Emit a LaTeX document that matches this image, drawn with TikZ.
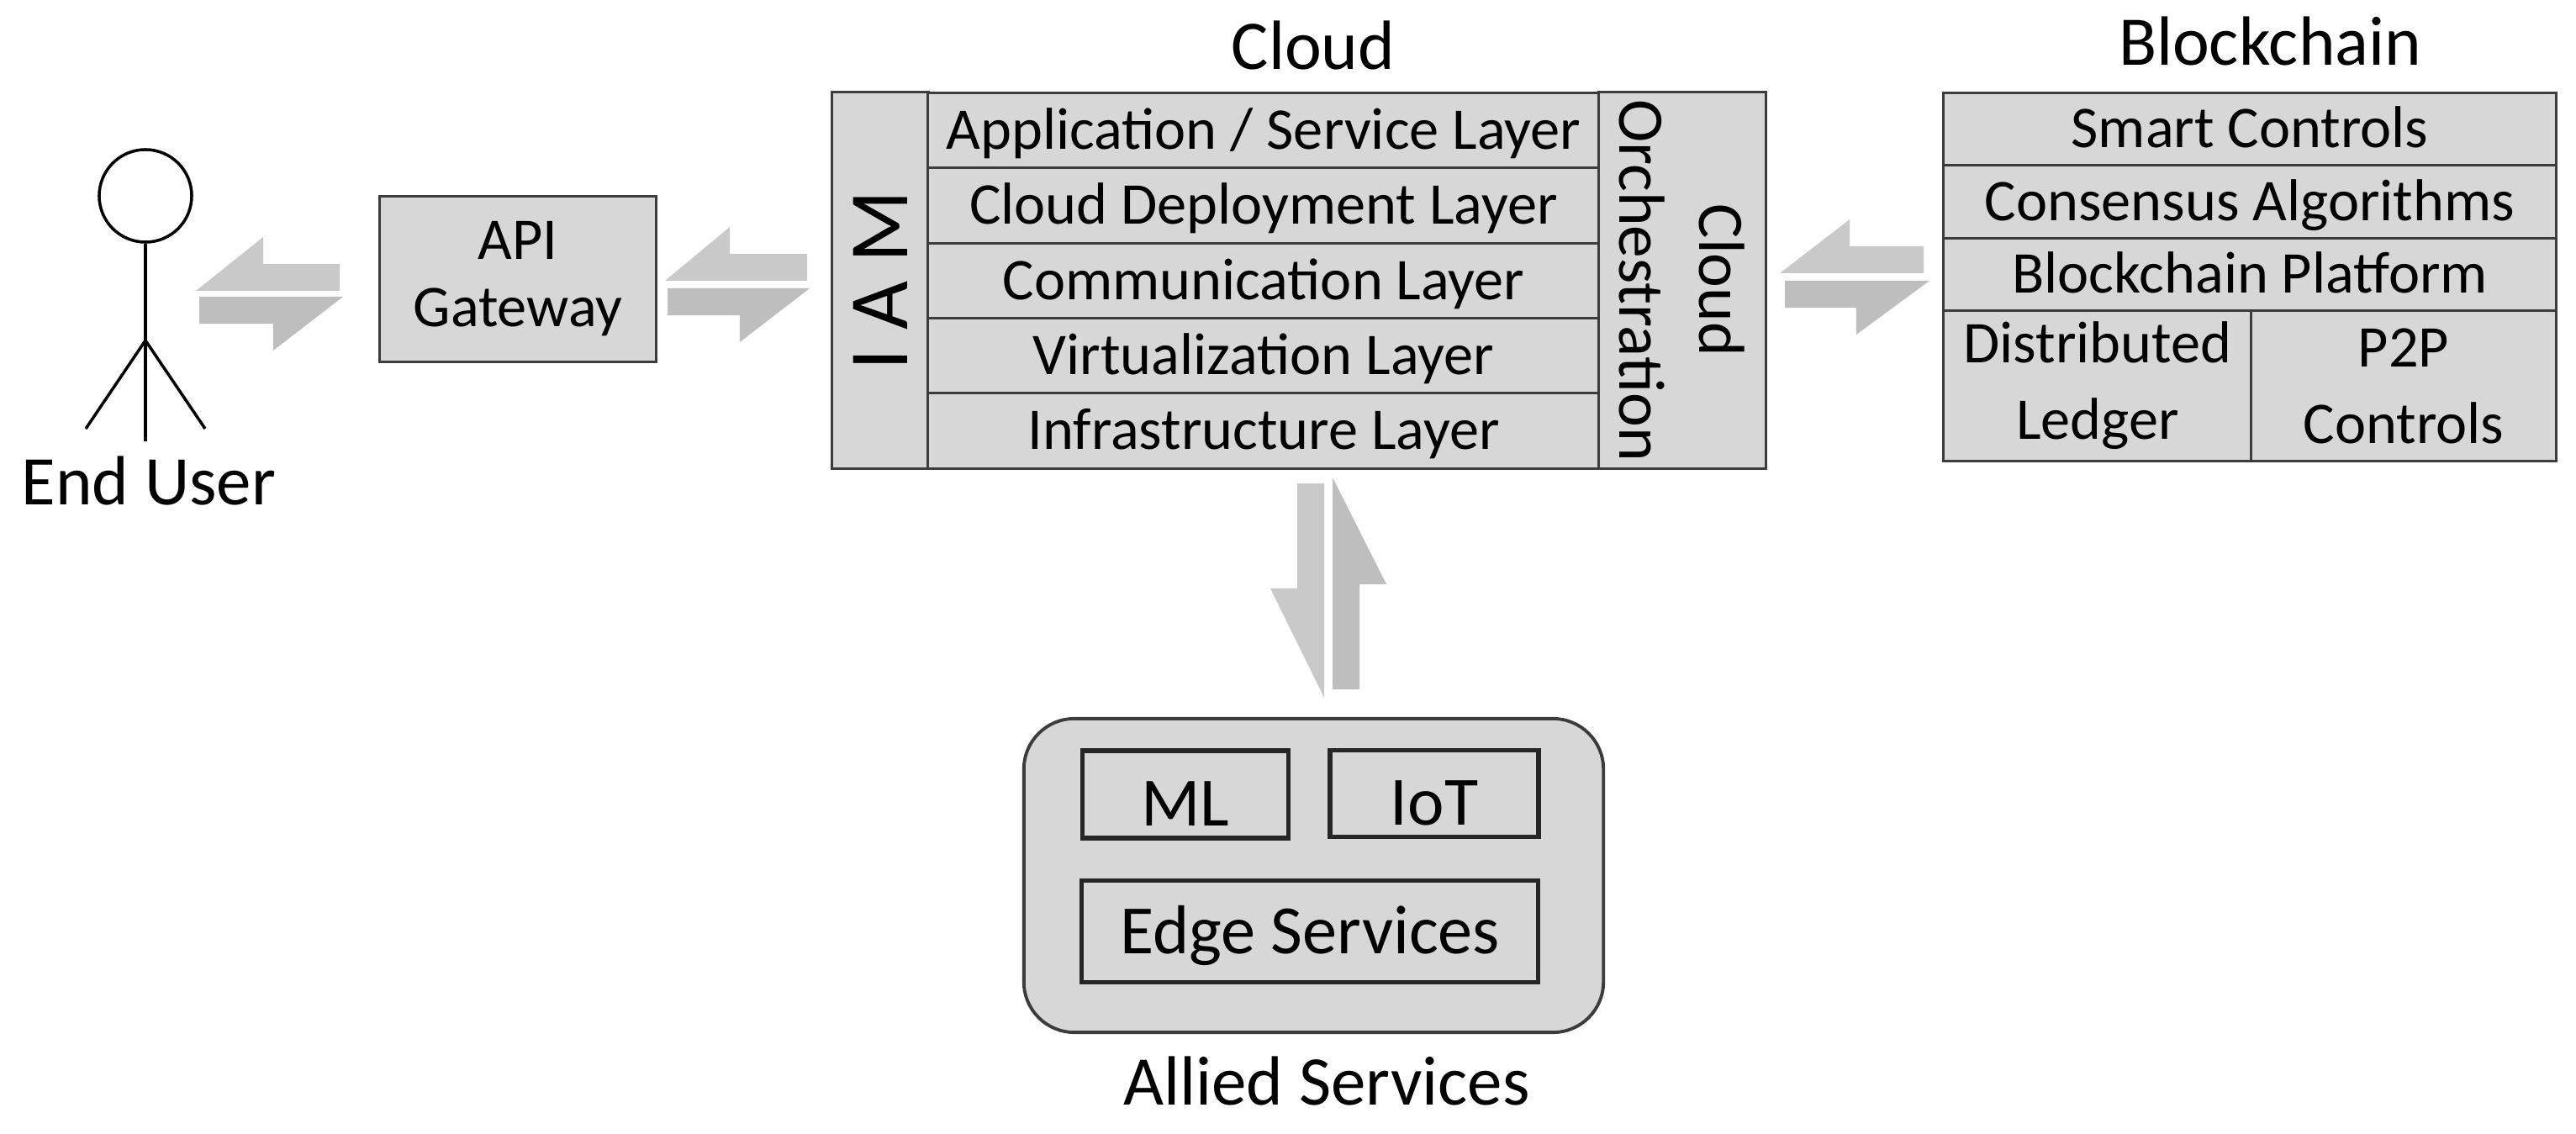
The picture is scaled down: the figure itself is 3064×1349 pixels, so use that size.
\documentclass[tikz,border=0pt]{standalone}
\usepackage{fontspec}
\setmainfont{Carlito}
\usetikzlibrary{calc}
\definecolor{boxgray}{HTML}{D7D7D7}
\definecolor{edgegray}{HTML}{3C3C3C}
\definecolor{arrowlight}{HTML}{C9C9C9}
\definecolor{arrowdark}{HTML}{BEBEBE}
% half block arrow: colour, tail, tip, head length
\newcommand{\halfarrow}[4]{%
  \coordinate (hb) at ($(#3)!#4!(#2)$);
  \fill[#1] (#2) -- (#3) -- ($(hb)!0.64cm!-90:(#3)$) -- ($(hb)!0.32cm!-90:(#3)$)
    -- ($(#2)!0.32cm!-90:(#3)$) -- cycle;}
\begin{document}
\begin{tikzpicture}[x=0.01cm,y=-0.01cm,
  box/.style={draw=edgegray,fill=boxgray,line width=0.85pt,inner sep=0pt,outer sep=0pt},
  lyr/.style={box,font=\fontsize{20}{24}\selectfont,text height=0.445cm,text depth=0pt},
  inbox/.style={box,draw=black!85,line width=1.6pt,font=\fontsize{23.4}{27}\selectfont,text height=0.52cm,text depth=0pt},
  title/.style={font=\fontsize{23.6}{28}\selectfont,text height=0.525cm,text depth=0pt,inner sep=0pt},
  stick/.style={line width=1pt}]
\useasboundingbox (0,0) rectangle (3064,1349);

% end user
\node[circle,draw,stick,minimum size=1.1cm,inner sep=0pt] (head) at (173,233) {};
\coordinate (hip) at (173,405);
\draw[stick] (head.south) -- (173,525);
\draw[stick] (102,510) -- (hip) -- (244,510);
\node[title] (user) at (177,574) {End User};

% gateway
\node[box,minimum width=3.28cm,minimum height=1.96cm,align=center,font=\fontsize{20}{22.8}\selectfont] (gw) at (616,332) {API\\Gateway};

% cloud
\node[title] (cloudtitle) at (1562,56) {Cloud};
\node[box,rotate=90,minimum width=4.47cm,minimum height=1.14cm,font=\fontsize{28.5}{30}\selectfont] (iam) at (1047,333.5) {I A M};
\foreach \i/\txt in {0/{Application / Service Layer},1/{Cloud Deployment Layer},2/{Communication Layer},3/{Virtualization Layer},4/{Infrastructure Layer}}
  {\node[lyr,minimum width=7.98cm,minimum height=0.894cm] (layer\i) at (1503,155+89.4*\i) {\txt};}
\node[box,rotate=-90,minimum width=4.47cm,minimum height=1.98cm,align=center,font=\fontsize{22}{27}\selectfont] (orch) at (2001,333.5) {Cloud\\Orchestration};

% blockchain
\node[title] (chaintitle) at (2700,51) {Blockchain};
\foreach \i/\txt in {0/Smart Controls,1/Consensus Algorithms,2/Blockchain Platform}
  {\node[lyr,minimum width=7.28cm,minimum height=0.865cm] (chain\i) at (2676,153.5+86.5*\i) {\txt};}
\node[box,minimum width=3.66cm,minimum height=1.78cm,align=center,font=\fontsize{20}{25.9}\selectfont] (ledger) at (2495,459) {Distributed\\Ledger};
\node[box,minimum width=3.62cm,minimum height=1.78cm,align=center,font=\fontsize{20}{25.9}\selectfont] (p2p) at (2859,459) {P2P\\Controls};

% allied services
\node[box,rounded corners=0.6cm,line width=1.1pt,minimum width=6.89cm,minimum height=3.73cm] (allied) at (1562.5,1041.5) {};
\node[inbox,minimum width=2.45cm,minimum height=1.04cm,text height=0.74cm] (ml) at (1410,945) {ML};
\node[inbox,minimum width=2.48cm,minimum height=1.03cm,text height=0.74cm] (iot) at (1706,944) {IoT};
\node[inbox,minimum width=5.43cm,minimum height=1.21cm] (edge) at (1558,1108) {Edge Services};
\node[title] (alliedtitle) at (1578,1288) {Allied Services};

% arrows
\coordinate (ug1) at (404,346); \coordinate (ug2) at (233,346);
\coordinate (ug3) at (237,353); \coordinate (ug4) at (408,353);
\coordinate (gc1) at (960,334); \coordinate (gc2) at (791,334);
\coordinate (gc3) at (794,343); \coordinate (gc4) at (963,343);
\coordinate (cb1) at (2288,325); \coordinate (cb2) at (2117,325);
\coordinate (cb3) at (2123,334); \coordinate (cb4) at (2295,334);
\coordinate (ca1) at (1575,575); \coordinate (ca2) at (1575,830);
\coordinate (ca3) at (1585,820); \coordinate (ca4) at (1585,568);
\halfarrow{arrowlight}{ug1}{ug2}{0.8cm}
\halfarrow{arrowdark}{ug3}{ug4}{0.83cm}
\halfarrow{arrowlight}{gc1}{gc2}{0.77cm}
\halfarrow{arrowdark}{gc3}{gc4}{0.83cm}
\halfarrow{arrowlight}{cb1}{cb2}{0.83cm}
\halfarrow{arrowdark}{cb3}{cb4}{0.87cm}
\halfarrow{arrowlight}{ca1}{ca2}{1.3cm}
\halfarrow{arrowdark}{ca3}{ca4}{1.27cm}
\end{tikzpicture}
\end{document}
